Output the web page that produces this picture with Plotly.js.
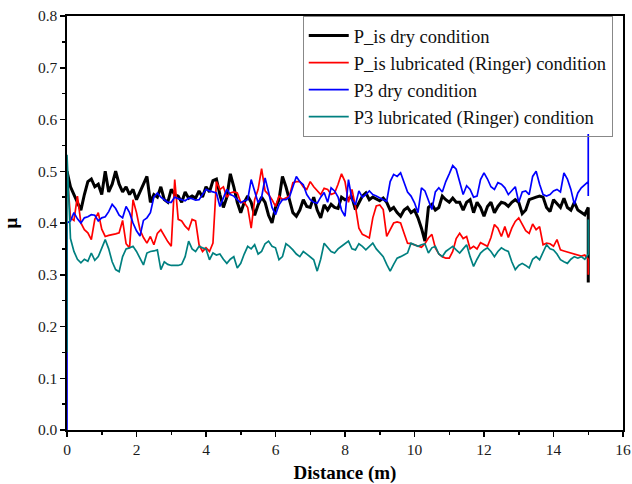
<!DOCTYPE html>
<html>
<head>
<meta charset="utf-8">
<script src="https://cdn.plot.ly/plotly-3.0.1.min.js"></script>
<style>html,body{margin:0;padding:0;background:#fff;}#chart{width:632px;height:484px;}</style>
</head>
<body>
<div id="chart"></div>
<script>
const distance = [
0,0.1,0.2,0.3,0.4,0.5,0.6,0.7,0.8,0.9,
1,1.1,1.2,1.3,1.4,1.5,1.6,1.7,1.8,1.9,
2,2.1,2.2,2.3,2.4,2.5,2.6,2.7,2.8,2.9,
3,3.1,3.2,3.3,3.4,3.5,3.6,3.7,3.8,3.9,
4,4.1,4.2,4.3,4.4,4.5,4.6,4.7,4.8,4.9,
5,5.1,5.2,5.3,5.4,5.5,5.6,5.7,5.8,5.9,
6,6.1,6.2,6.3,6.4,6.5,6.6,6.7,6.8,6.9,
7,7.1,7.2,7.3,7.4,7.5,7.6,7.7,7.8,7.9,
8,8.1,8.2,8.3,8.4,8.5,8.6,8.7,8.8,8.9,
9,9.1,9.2,9.3,9.4,9.5,9.6,9.7,9.8,9.9,
10,10.1,10.2,10.3,10.4,10.5,10.6,10.7,10.8,10.9,
11,11.1,11.2,11.3,11.4,11.5,11.6,11.7,11.8,11.9,
12,12.1,12.2,12.3,12.4,12.5,12.6,12.7,12.8,12.9,
13,13.1,13.2,13.3,13.4,13.5,13.6,13.7,13.8,13.9,
14,14.1,14.2,14.3,14.4,14.5,14.6,14.7,14.8,14.9,
15];

const pisDry = [
0.50,0.47,0.455,0.44,0.425,0.455,0.48,0.485,0.47,0.475,
0.455,0.50,0.46,0.475,0.50,0.475,0.46,0.47,0.455,0.465,
0.445,0.46,0.475,0.49,0.44,0.455,0.45,0.47,0.445,0.44,
0.465,0.455,0.452,0.44,0.46,0.448,0.452,0.448,0.462,0.45,
0.47,0.46,0.482,0.485,0.455,0.43,0.45,0.495,0.47,0.44,
0.42,0.44,0.452,0.44,0.415,0.435,0.45,0.44,0.415,0.40,
0.43,0.445,0.49,0.47,0.445,0.42,0.413,0.425,0.445,0.432,
0.43,0.45,0.425,0.41,0.435,0.425,0.436,0.43,0.428,0.45,
0.445,0.447,0.45,0.426,0.44,0.452,0.458,0.445,0.45,0.447,
0.443,0.448,0.44,0.425,0.43,0.42,0.413,0.425,0.43,0.42,
0.425,0.41,0.39,0.365,0.43,0.436,0.425,0.43,0.452,0.445,
0.44,0.448,0.44,0.44,0.425,0.44,0.445,0.42,0.44,0.43,
0.413,0.432,0.44,0.42,0.432,0.44,0.438,0.432,0.44,0.445,
0.44,0.418,0.425,0.445,0.448,0.45,0.452,0.45,0.43,0.422,
0.445,0.438,0.43,0.448,0.43,0.425,0.44,0.425,0.42,0.416,
0.43];

const pisLub = [
0.50,0.41,0.405,0.452,0.40,0.387,0.381,0.368,0.407,0.42,
0.388,0.374,0.376,0.377,0.379,0.381,0.405,0.36,0.352,0.445,
0.42,0.387,0.372,0.361,0.374,0.358,0.38,0.387,0.374,0.364,
0.355,0.484,0.407,0.404,0.394,0.387,0.407,0.404,0.358,0.345,
0.352,0.345,0.361,0.48,0.465,0.47,0.45,0.458,0.46,0.458,
0.44,0.44,0.43,0.39,0.445,0.465,0.505,0.462,0.455,0.445,
0.432,0.452,0.445,0.448,0.452,0.478,0.48,0.48,0.47,0.465,
0.48,0.47,0.462,0.455,0.467,0.465,0.455,0.458,0.475,0.495,
0.48,0.44,0.465,0.432,0.39,0.378,0.375,0.371,0.41,0.433,
0.435,0.426,0.374,0.387,0.40,0.402,0.40,0.38,0.361,0.36,
0.358,0.355,0.353,0.36,0.371,0.378,0.352,0.34,0.335,0.332,
0.332,0.345,0.37,0.38,0.37,0.374,0.35,0.355,0.35,0.362,
0.358,0.355,0.372,0.397,0.39,0.374,0.393,0.372,0.39,0.403,
0.41,0.398,0.385,0.38,0.398,0.387,0.393,0.358,0.361,0.36,
0.355,0.368,0.348,0.346,0.344,0.342,0.34,0.338,0.336,0.338,
0.33];

const p3Dry = [
0.40,0.404,0.42,0.408,0.40,0.41,0.412,0.416,0.415,0.404,
0.41,0.412,0.422,0.436,0.428,0.415,0.41,0.432,0.42,0.40,
0.385,0.375,0.405,0.41,0.42,0.45,0.458,0.45,0.445,0.44,
0.44,0.45,0.447,0.445,0.443,0.448,0.447,0.444,0.445,0.455,
0.465,0.462,0.46,0.458,0.432,0.45,0.465,0.455,0.452,0.445,
0.439,0.443,0.445,0.484,0.46,0.439,0.45,0.487,0.46,0.43,
0.416,0.435,0.445,0.445,0.45,0.47,0.49,0.48,0.474,0.455,
0.445,0.44,0.438,0.45,0.459,0.44,0.468,0.462,0.45,0.425,
0.413,0.484,0.445,0.435,0.462,0.45,0.455,0.462,0.455,0.452,
0.448,0.445,0.442,0.48,0.494,0.49,0.497,0.48,0.46,0.452,
0.439,0.42,0.468,0.462,0.445,0.426,0.46,0.468,0.46,0.48,
0.495,0.511,0.504,0.481,0.455,0.472,0.465,0.45,0.452,0.484,
0.497,0.485,0.47,0.465,0.478,0.475,0.468,0.455,0.462,0.47,
0.44,0.46,0.462,0.455,0.49,0.5,0.475,0.455,0.452,0.455,
0.462,0.465,0.46,0.497,0.485,0.465,0.436,0.458,0.468,0.474,
0.48];

const p3Lub = [
0.532,0.37,0.345,0.33,0.323,0.33,0.326,0.342,0.328,0.335,
0.352,0.368,0.35,0.325,0.31,0.306,0.335,0.35,0.352,0.355,
0.345,0.332,0.319,0.342,0.345,0.346,0.348,0.31,0.325,0.32,
0.318,0.318,0.318,0.32,0.335,0.365,0.35,0.345,0.355,0.352,
0.35,0.329,0.342,0.338,0.34,0.33,0.322,0.33,0.335,0.313,
0.322,0.34,0.355,0.35,0.358,0.34,0.345,0.36,0.365,0.355,
0.352,0.329,0.335,0.36,0.355,0.348,0.34,0.335,0.345,0.34,
0.335,0.329,0.307,0.33,0.361,0.352,0.345,0.342,0.35,0.355,
0.36,0.365,0.35,0.348,0.36,0.355,0.348,0.355,0.361,0.35,
0.342,0.335,0.32,0.307,0.32,0.332,0.335,0.338,0.342,0.361,
0.358,0.355,0.358,0.36,0.342,0.352,0.355,0.34,0.335,0.345,
0.35,0.355,0.348,0.342,0.35,0.358,0.335,0.316,0.33,0.342,
0.348,0.352,0.345,0.335,0.345,0.352,0.348,0.345,0.325,0.31,
0.318,0.322,0.318,0.313,0.33,0.335,0.329,0.345,0.358,0.35,
0.348,0.34,0.329,0.325,0.322,0.33,0.335,0.332,0.335,0.33,
0.34];

// start / end transients of each run
const pisDryStartX = [], pisDryStartY = [];
const pisDryEndX = [15], pisDryEndY = [0.285];
const pisLubStartX = [], pisLubStartY = [];
const pisLubEndX = [15], pisLubEndY = [0.30];
const p3DryStartX = [0], p3DryStartY = [0.0];
const p3DryEndX = [15, 15], p3DryEndY = [0.572, 0.452];
const p3LubStartX = [0], p3LubStartY = [0.15];
const p3LubEndX = [15], p3LubEndY = [0.407];

const names = ['P_is dry condition', 'P_is lubricated (Ringer) condition', 'P3 dry condition', 'P3 lubricated (Ringer) condition'];
const colors = ['#000000', '#ff0000', '#0000ff', '#008080'];

function mk(i, sx, sy, ys, ex, ey, w) {
  return {
    type: 'scatter', mode: 'lines', name: names[i],
    x: sx.concat(distance, ex), y: sy.concat(ys, ey),
    line: {color: colors[i], width: w}
  };
}

const data = [
  mk(0, pisDryStartX, pisDryStartY, pisDry, pisDryEndX, pisDryEndY, 3),
  mk(1, pisLubStartX, pisLubStartY, pisLub, pisLubEndX, pisLubEndY, 1.7),
  mk(2, p3DryStartX, p3DryStartY, p3Dry, p3DryEndX, p3DryEndY, 1.7),
  mk(3, p3LubStartX, p3LubStartY, p3Lub, p3LubEndX, p3LubEndY, 1.7)
];

const font = 'Liberation Serif, Times New Roman, serif';
const layout = {
  width: 632, height: 484,
  margin: {l: 67, r: 9, t: 16, b: 54, pad: 0},
  paper_bgcolor: '#fff', plot_bgcolor: '#fff',
  font: {family: font, size: 16, color: '#1a1a1a'},
  showlegend: true,
  legend: {
    x: 0.424, y: 1, xanchor: 'left', yanchor: 'top',
    bgcolor: 'rgba(255,255,255,0)', bordercolor: '#888', borderwidth: 1,
    font: {family: font, size: 18.5, color: '#111'},
    tracegroupgap: 0, itemwidth: 40
  },
  xaxis: {
    range: [0, 16], dtick: 2, tick0: 0, autorange: false,
    showgrid: false, zeroline: false,
    showline: true, linecolor: '#000', linewidth: 1.6, mirror: true,
    ticks: 'outside', ticklen: 5, tickwidth: 1.5, tickcolor: '#000',
    minor: {dtick: 1, ticks: 'outside', ticklen: 3, tickwidth: 1.5, tickcolor: '#000', showgrid: false},
    tickfont: {family: font, size: 15.5, color: '#1a1a1a'},
    title: {text: '<b>Distance (m)</b>', font: {family: font, size: 19, color: '#000'}, standoff: 9}
  },
  yaxis: {
    range: [0, 0.8], dtick: 0.1, tick0: 0, tickformat: '.1f', autorange: false,
    showgrid: false, zeroline: false,
    showline: true, linecolor: '#000', linewidth: 1.6, mirror: true,
    ticks: 'outside', ticklen: 5, tickwidth: 1.5, tickcolor: '#000',
    minor: {dtick: 0.05, ticks: 'outside', ticklen: 3, tickwidth: 1.5, tickcolor: '#000', showgrid: false},
    tickfont: {family: font, size: 15.5, color: '#1a1a1a'},
    title: {text: '<b>μ</b>', font: {family: font, size: 19, color: '#000'}, standoff: 16}
  }
};

Plotly.newPlot('chart', data, layout, {displayModeBar: false, staticPlot: true});
</script>
</body>
</html>
